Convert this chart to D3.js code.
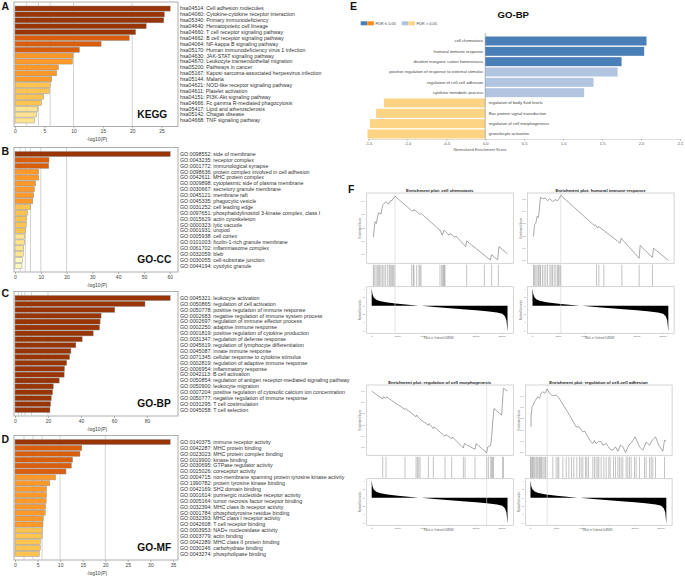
<!DOCTYPE html>
<html><head><meta charset="utf-8">
<script src="https://cdn.jsdelivr.net/npm/d3@7"></script>
<style>body{margin:0;background:#fff}svg{display:block}text{font-family:"Liberation Sans",Arial,sans-serif}</style>
</head><body><svg id="c" width="685" height="576"></svg>
<script>
// ---------- Metascape bar panels (-log10 P) ----------
const keggTerms = ["hsa04514: Cell adhesion molecules","hsa04060: Cytokine-cytokine receptor interaction","hsa05340: Primary immunodeficiency","hsa04640: Hematopoietic cell lineage","hsa04660: T cell receptor signaling pathway","hsa04662: B cell receptor signaling pathway","hsa04064: NF-kappa B signaling pathway","hsa05170: Human immunodeficiency virus 1 infection","hsa04630: JAK-STAT signaling pathway","hsa04670: Leukocyte transendothelial migration","hsa05200: Pathways in cancer","hsa05167: Kaposi sarcoma-associated herpesvirus infection","hsa05144: Malaria","hsa04621: NOD-like receptor signaling pathway","hsa04611: Platelet activation","hsa04151: PI3K-Akt signaling pathway","hsa04666: Fc gamma R-mediated phagocytosis","hsa05417: Lipid and atherosclerosis","hsa05142: Chagas disease","hsa04668: TNF signaling pathway"];
const keggValues = [26.5,25.5,25.4,22.4,20.6,19.5,14.7,11.0,9.9,9.8,7.4,7.1,6.25,6.0,5.85,4.9,4.5,3.9,3.7,3.35];
const keggTicks = [0,5,10,15,20,25];

const ccTerms = ["GO:0098552: side of membrane","GO:0043235: receptor complex","GO:0001772: immunological synapse","GO:0098636: protein complex involved in cell adhesion","GO:0042611: MHC protein complex","GO:0009898: cytoplasmic side of plasma membrane","GO:0030667: secretory granule membrane","GO:0045121: membrane raft","GO:0045335: phagocytic vesicle","GO:0031252: cell leading edge","GO:0097651: phosphatidylinositol 3-kinase complex, class I","GO:0015629: actin cytoskeleton","GO:0000323: lytic vacuole","GO:0001931: uropod","GO:0005938: cell cortex","GO:0101003: ficolin-1-rich granule membrane","GO:0061702: inflammasome complex","GO:0032059: bleb","GO:0030055: cell-substrate junction","GO:0044194: cytolytic granule"];
const ccValues = [60.2,13.2,13.1,9.2,9.2,8.0,7.5,7.25,6.9,6.0,4.9,4.5,4.4,4.1,3.75,3.75,3.4,3.2,2.85,2.7];
const ccTicks = [0,10,20,30,40,50,60];

const bpTerms = ["GO:0045321: leukocyte activation","GO:0050865: regulation of cell activation","GO:0050778: positive regulation of immune response","GO:0002683: negative regulation of immune system process","GO:0002697: regulation of immune effector process","GO:0002250: adaptive immune response","GO:0001819: positive regulation of cytokine production","GO:0031347: regulation of defense response","GO:0045619: regulation of lymphocyte differentiation","GO:0045087: innate immune response","GO:0071345: cellular response to cytokine stimulus","GO:0002819: regulation of adaptive immune response","GO:0006954: inflammatory response","GO:0042113: B cell activation","GO:0050854: regulation of antigen receptor-mediated signaling pathway","GO:0050900: leukocyte migration","GO:0007204: positive regulation of cytosolic calcium ion concentration","GO:0050777: negative regulation of immune response","GO:0031295: T cell costimulation","GO:0045058: T cell selection"];
const bpValues = [94.1,78.8,60.5,52.2,51.6,51.2,47.4,40.7,36.9,33.9,33.1,31.3,30.0,29.8,26.8,23.2,22.8,22.0,21.6,21.2];
const bpTicks = [0,20,40,60,80];

const mfTerms = ["GO:0140375: immune receptor activity","GO:0042287: MHC protein binding","GO:0023023: MHC protein complex binding","GO:0019900: kinase binding","GO:0030695: GTPase regulator activity","GO:0015026: coreceptor activity","GO:0004715: non-membrane spanning protein tyrosine kinase activity","GO:1990782: protein tyrosine kinase binding","GO:0042169: SH2 domain binding","GO:0001614: purinergic nucleotide receptor activity","GO:0005164: tumor necrosis factor receptor binding","GO:0032394: MHC class Ib receptor activity","GO:0001784: phosphotyrosine residue binding","GO:0032393: MHC class I receptor activity","GO:0042608: T cell receptor binding","GO:0003953: NAD+ nucleosidase activity","GO:0003779: actin binding","GO:0042289: MHC class II protein binding","GO:0030246: carbohydrate binding","GO:0043274: phospholipase binding"];
const mfValues = [34.4,14.8,14.4,12.75,12.5,11.3,9.0,7.7,7.0,7.0,6.9,6.8,6.7,6.3,6.2,6.05,6.0,5.6,5.6,5.4];
const mfTicks = [0,5,10,15,20,25,30,35];

const metaGridValues = [2,4,6,10,20];

// ---------- Panel E: GSEA GO-BP NES ----------
const nesTerms = ["cell chemotaxis","humoral immune response","divalent inorganic cation homeostasis","positive regulation of response to external stimulus","regulation of cell-cell adhesion","cytokine metabolic process","regulation of body fluid levels","Ras protein signal transduction","regulation of cell morphogenesis","granulocyte activation"];
const nesValues = [2.07,2.04,1.75,1.70,1.39,1.27,-1.30,-1.40,-1.48,-1.51];
const nesFdrSignificant = [true,true,true,false,false,false,false,false,false,false];
const nesTicks = [-1.5,-1.0,-0.5,0.0,0.5,1.0,1.5,2.0,2.5];

// ---------- Panel F: enrichment plots (rank in thousands) ----------
const rankTicks = [0,5,10,15,20,25];
const rankedMetric = [[0,4.2],[0.15,2.8],[0.4,2.0],[0.8,1.5],[1.5,1.15],[3,0.8],[5,0.5],[7,0.28],[9,0.05],[9.5,0],[12,-0.3],[15,-0.6],[18,-0.85],[20,-1.05],[22,-1.3],[24,-1.6],[25,-1.9],[25.5,-2.5],[25.8,-3.5],[26,-6.2]];
const metricTicks = [-6,-4,-2,0,2,4];

const chemotaxisCurve = [[0.31,0.127],[0.63,0.246],[0.89,0.233],[1.27,0.314],[1.78,0.304],[2.10,0.372],[2.67,0.397],[3.18,0.380],[3.57,0.405],[3.95,0.410],[4.21,0.430],[4.46,0.440],[7.65,0.33],[7.97,0.329],[8.10,0.339],[9.25,0.301],[9.44,0.309],[13.07,0.182],[13.52,0.144],[13.84,0.182],[14.80,0.144],[14.99,0.157],[15.95,0.127],[16.14,0.137],[17.99,0.056],[18.18,0.099],[22.71,-0.046],[22.96,-0.005],[24.11,-0.045],[24.37,0.057],[26.0,0.0]];
const chemotaxisHits = [0.31,0.50,0.82,1.08,1.33,1.53,1.78,2.10,2.36,2.67,3.06,3.38,3.57,3.82,4.01,4.21,4.46,7.65,7.97,8.10,8.61,9.05,9.25,9.44,13.07,13.39,13.59,13.78,13.90,14.03,18.18,21.56,22.96,24.24];
const chemotaxisPeak = 4.46;
const chemotaxisTicks = [0,0.1,0.2,0.3,0.4];

const humoralCurve = [[0.19,0.195],[0.38,0.29],[0.64,0.304],[0.89,0.359],[1.15,0.351],[1.53,0.515],[2.04,0.504],[2.43,0.510],[2.87,0.488],[3.32,0.504],[3.83,0.482],[4.34,0.496],[4.79,0.488],[5.11,0.504],[5.42,0.532],[11.81,0.285],[12.0,0.290],[12.44,0.263],[12.63,0.277],[16.78,0.140],[16.97,0.181],[20.42,0.016],[20.61,0.121],[22.97,0.022],[23.16,0.099],[26.0,0.0]];
const humoralHits = [0.19,0.38,0.64,0.89,1.15,1.40,1.53,1.91,2.23,2.55,2.87,3.32,3.57,3.83,4.15,4.47,4.79,4.98,5.23,5.42,12.25,12.70,13.66,17.11,20.42,22.97];
const humoralPeak = 5.42;
const humoralTicks = [0,0.1,0.2,0.3,0.4,0.5];

const morphoCurve = [[0,0],[2.11,-0.071],[2.23,-0.051],[2.68,-0.065],[2.81,-0.051],[6.38,-0.164],[6.51,-0.155],[8.49,-0.229],[8.61,-0.214],[9.25,-0.25],[10.85,-0.304],[10.98,-0.289],[11.80,-0.333],[11.93,-0.318],[14.04,-0.402],[14.23,-0.387],[15.31,-0.423],[15.44,-0.408],[17.55,-0.506],[17.74,-0.467],[19.78,-0.518],[19.97,-0.467],[22.01,-0.548],[22.21,-0.497],[22.78,-0.482],[22.91,-0.423],[23.04,-0.363],[23.16,-0.274],[23.42,-0.155],[24.89,-0.214],[25.20,0.024],[26.0,0.0]];
const morphoHits = [2.11,2.74,6.38,8.49,8.74,9.00,9.25,10.85,11.80,14.04,15.31,17.55,17.87,19.78,22.01,22.33,22.78,22.97,23.16,23.29,25.08,25.20];
const morphoPeak = 22.01;
const morphoTicks = [-0.5,-0.4,-0.3,-0.2,-0.1,0];

const adhesionCurve = [[0.1,0.126],[0.13,0.229],[0.32,0.303],[0.57,0.324],[0.83,0.353],[1.09,0.371],[1.40,0.391],[1.72,0.376],[2.04,0.421],[2.36,0.435],[2.74,0.421],[3.19,0.459],[3.64,0.421],[4.02,0.406],[4.40,0.40],[4.91,0.406],[5.30,0.391],[7.47,0.229],[8.74,0.126],[9.25,0.126],[10.02,0.082],[10.40,0.088],[11.10,0.029],[11.61,-0.006],[11.93,-0.021],[12.25,0.006],[12.57,-0.021],[13.08,0.0],[13.53,-0.006],[13.85,-0.035],[14.49,-0.021],[15.25,-0.071],[15.76,-0.079],[16.27,-0.05],[16.72,-0.088],[17.23,-0.035],[17.68,-0.05],[18.19,-0.1],[18.82,-0.035],[19.46,-0.006],[20.04,0.038],[20.87,-0.05],[21.50,-0.079],[22.14,-0.006],[22.78,-0.035],[23.29,0.009],[23.93,0.038],[24.57,-0.035],[25.33,-0.088],[25.65,0.009],[26.0,0.0]];
const adhesionHits = [0.0,0.13,0.32,0.45,0.64,0.83,1.08,1.28,1.47,1.72,1.91,2.11,2.36,2.62,2.87,3.19,4.27,4.91,5.23,5.42,6.19,6.83,7.34,7.85,8.29,8.87,9.38,9.70,10.02,10.53,10.78,11.10,11.93,12.25,12.57,12.89,13.08,13.53,14.04,14.48,14.99,15.25,15.89,16.27,16.72,17.03,17.35,17.67,18.31,18.63,18.95,19.27,19.91,20.22,20.86,21.82,22.14,22.78,23.10,23.41,23.93,25.65];
const adhesionPeak = 3.19;
const adhesionTicks = [-0.1,0,0.1,0.2,0.3,0.4];

// =====================================================
const svg = d3.select("#c");
svg.append("rect").attr("width",685).attr("height",576).attr("fill","#fff");

function barColor(v){
  if (v >= 20) return "#993404";
  if (v >= 10) return "#d95f0e";
  if (v >= 6.1) return "#fe9929";
  if (v >= 4) return "#fec44f";
  if (v >= 3) return "#fee391";
  return "#fff7bc";
}

function metaPanel(letter, name, terms, values, ticks, top, letterY){
  const H = 124.5, L = 14, R = 178;
  const g = svg.append("g").attr("transform", `translate(0,${top})`);
  const x = d3.scaleLinear().domain([0, d3.max(values)*1.05]).range([L+1, R]);
  const y = d3.scaleBand().domain(terms).range([4, H-3.5]).paddingInner(0.14);
  g.append("rect").attr("x",L).attr("y",0).attr("width",R-L).attr("height",H)
    .attr("fill","#fff").attr("stroke","#9a9a9a").attr("stroke-width",0.8);
  g.selectAll(".grid").data(metaGridValues).join("line")
    .attr("x1",d=>x(d)).attr("x2",d=>x(d)).attr("y1",0.4).attr("y2",H)
    .attr("stroke","#c6c6c6").attr("stroke-width",0.8);
  g.selectAll(".bar").data(values).join("rect")
    .attr("x",x(0)).attr("y",(d,i)=>y(terms[i]))
    .attr("width",d=>x(d)-x(0)).attr("height",y.bandwidth())
    .attr("fill",d=>barColor(d)).attr("stroke","#8e8e8e").attr("stroke-width",0.45);
  g.selectAll(".lab").data(terms).join("text")
    .attr("x",180).attr("y",d=>y(d)+y.bandwidth()/2).attr("dy","0.35em")
    .attr("font-size",5.3).attr("fill","#333").text(d=>d);
  const ax = g.append("g").attr("transform",`translate(0,${H})`)
    .call(d3.axisBottom(x).tickValues(ticks).tickSize(2).tickPadding(1.2));
  ax.attr("font-size",5).attr("font-family",null);
  ax.select(".domain").remove();
  ax.selectAll("line").attr("stroke","#777").attr("stroke-width",0.5);
  ax.selectAll("text").attr("fill","#444");
  g.append("text").attr("x",97).attr("y",H+14.5).attr("text-anchor","middle")
    .attr("font-size",5).attr("fill","#444").text("-log10(P)");
  g.append("text").attr("x",137.3).attr("y",H-9).attr("font-size",10.2)
    .attr("font-weight","bold").attr("fill","#111").text(name);
  svg.append("text").attr("x",1.5).attr("y",letterY).attr("font-size",10.5)
    .attr("font-weight","bold").attr("fill","#111").text(letter);
}

metaPanel("A","KEGG",keggTerms,keggValues,keggTicks,2,9.5);
metaPanel("B","GO-CC",ccTerms,ccValues,ccTicks,147.5,154.7);
metaPanel("C","GO-BP",bpTerms,bpValues,bpTicks,291.5,297.3);
metaPanel("D","GO-MF",mfTerms,mfValues,mfTicks,435.5,442.7);

// ---------- Panel E ----------
(function(){
  const g = svg.append("g");
  const x = d3.scaleLinear().domain([-1.5,2.5]).range([368.3,680]);
  const y = d3.scaleBand().domain(nesTerms).range([36.5,138.5]).paddingInner(0.13);
  const col = (v,s) => v>0 ? (s ? "#4a7eb7" : "#b2c5e0") : (s ? "#ff8c1a" : "#fdd384");
  svg.append("text").attr("x",350).attr("y",10).attr("font-size",10.5)
    .attr("font-weight","bold").attr("fill","#111").text("E");
  g.append("text").attr("x",513.3).attr("y",18.3).attr("text-anchor","middle")
    .attr("font-size",9.6).attr("font-weight","bold").attr("fill","#111").text("GO-BP");
  const lg = g.append("g");
  lg.append("rect").attr("x",360.7).attr("y",21.3).attr("width",6.6).attr("height",4).attr("fill",col(1,true));
  lg.append("rect").attr("x",367.3).attr("y",21.3).attr("width",6.6).attr("height",4).attr("fill",col(-1,true));
  lg.append("text").attr("x",375.5).attr("y",24.9).attr("font-size",4).attr("fill","#444").text("FDR \u2264 0.05");
  lg.append("rect").attr("x",401.7).attr("y",21.3).attr("width",6.6).attr("height",4).attr("fill",col(1,false));
  lg.append("rect").attr("x",408.3).attr("y",21.3).attr("width",6.6).attr("height",4).attr("fill",col(-1,false));
  lg.append("text").attr("x",416.5).attr("y",24.9).attr("font-size",4).attr("fill","#444").text("FDR > 0.05");
  g.selectAll(".nb").data(nesValues).join("rect")
    .attr("x",d=>x(Math.min(0,d))).attr("y",(d,i)=>y(nesTerms[i]))
    .attr("width",d=>Math.abs(x(d)-x(0))).attr("height",y.bandwidth())
    .attr("fill",(d,i)=>col(d,nesFdrSignificant[i]));
  g.selectAll(".nl").data(nesValues).join("text")
    .attr("x",d=> d>0 ? x(0)-2 : x(0)+3.5)
    .attr("y",(d,i)=>y(nesTerms[i])+y.bandwidth()/2).attr("dy","0.35em")
    .attr("text-anchor",d=> d>0 ? "end" : "start")
    .attr("font-size",4.2).attr("fill","#444").text((d,i)=>nesTerms[i]);
  g.append("line").attr("x1",x(0)).attr("x2",x(0)).attr("y1",33).attr("y2",139)
    .attr("stroke","#8a8a8a").attr("stroke-width",0.6);
  const ax = g.append("g").attr("transform","translate(0,139)")
    .call(d3.axisBottom(x).tickValues(nesTicks).tickSize(1.8).tickPadding(1).tickFormat(d=>d.toFixed(1)));
  ax.attr("font-size",4).attr("font-family",null);
  ax.select(".domain").attr("stroke","#bbb").attr("stroke-width",0.5);
  ax.selectAll("line").attr("stroke","#999").attr("stroke-width",0.5);
  ax.selectAll("text").attr("fill","#555");
  g.append("text").attr("x",480).attr("y",150.5).attr("text-anchor","middle")
    .attr("font-size",4).attr("fill","#555").text("Normalized Enrichment Score");
})();

// ---------- Panel F ----------
svg.append("text").attr("x",348).attr("y",192.7).attr("font-size",10.5)
  .attr("font-weight","bold").attr("fill","#111").text("F");

function gseaPlot(title, boxX, top, curve, hits, peak, esDomain, esTicks){
  const W = 146.6, h1 = 70.3, bcTop = top + h1, mTop = top + 93.7, mBot = top + 140.3;
  const g = svg.append("g");
  const x = d3.scaleLinear().domain([0,25]).range([boxX+5, boxX+5+130.6]);
  const yEs = d3.scaleLinear().domain(esDomain).range([top+h1, top]);
  const yM = d3.scaleLinear().domain([-6.6,4.6]).range([mBot, mTop]);
  g.append("text").attr("x",boxX+73).attr("y",top-1.3).attr("text-anchor","middle")
    .attr("font-size",4.3).attr("font-weight","bold").attr("fill","#222").text(title);
  g.append("rect").attr("x",boxX).attr("y",top).attr("width",W).attr("height",h1)
    .attr("fill","#fff").attr("stroke","#c4c4c4").attr("stroke-width",0.7);
  g.append("line").attr("x1",x(peak)).attr("x2",x(peak)).attr("y1",top).attr("y2",top+h1)
    .attr("stroke","#d4d4d4").attr("stroke-width",0.6);
  g.append("path").datum(curve)
    .attr("d",d3.line().x(d=>x(d[0])).y(d=>yEs(d[1])))
    .attr("fill","none").attr("stroke","#6e6e6e").attr("stroke-width",0.6);
  g.selectAll(".est").data(esTicks).join("text")
    .attr("x",boxX-2).attr("y",d=>yEs(d)).attr("dy","0.35em").attr("text-anchor","end")
    .attr("font-size",2.4).attr("fill","#666").text(d=>d.toFixed(1));
  g.append("text").attr("transform",`translate(${boxX-5.5},${top+h1/2}) rotate(-90)`)
    .attr("text-anchor","middle").attr("font-size",2.6).attr("fill","#666").text("Enrichment Score");
  g.selectAll(".hit").data(hits).join("line")
    .attr("x1",d=>x(d)).attr("x2",d=>x(d)).attr("y1",bcTop+1.5).attr("y2",mTop-0.5)
    .attr("stroke","#6a6a6a").attr("stroke-width",0.4);
  g.append("rect").attr("x",boxX).attr("y",mTop).attr("width",W).attr("height",mBot-mTop)
    .attr("fill","#fff").attr("stroke","#c4c4c4").attr("stroke-width",0.7);
  g.append("path").datum(rankedMetric)
    .attr("d",d3.area().x(d=>x(d[0])).y0(yM(0)).y1(d=>yM(d[1])))
    .attr("fill","#000");
  g.append("line").attr("x1",x(peak)).attr("x2",x(peak)).attr("y1",mTop).attr("y2",mBot)
    .attr("stroke","#d4d4d4").attr("stroke-width",0.6);
  g.selectAll(".mt").data(metricTicks).join("text")
    .attr("x",boxX-2).attr("y",d=>yM(d)).attr("dy","0.35em").attr("text-anchor","end")
    .attr("font-size",2.4).attr("fill","#666").text(d=>d);
  g.append("text").attr("transform",`translate(${boxX-5.5},${(mTop+mBot)/2}) rotate(-90)`)
    .attr("text-anchor","middle").attr("font-size",2.6).attr("fill","#666").text("Ranked list metric");
  g.selectAll(".rt").data(rankTicks).join("text")
    .attr("x",d=>x(d)).attr("y",mBot+3.3).attr("text-anchor","middle")
    .attr("font-size",2.5).attr("fill","#666").text(d=>d*1000);
  g.selectAll(".rtl").data(rankTicks).join("line")
    .attr("x1",d=>x(d)).attr("x2",d=>x(d)).attr("y1",mBot).attr("y2",mBot+0.9)
    .attr("stroke","#888").attr("stroke-width",0.4);
  g.append("text").attr("x",boxX+72).attr("y",mBot+5.6).attr("text-anchor","middle")
    .attr("font-size",2.7).attr("fill","#666").text("Rank in Ordered Dataset");
}

gseaPlot("Enrichment plot: cell chemotaxis",366.7,193,chemotaxisCurve,chemotaxisHits,chemotaxisPeak,[-0.071,0.465],chemotaxisTicks);
gseaPlot("Enrichment plot: humoral immune response",527.5,193,humoralCurve,humoralHits,humoralPeak,[-0.025,0.551],humoralTicks);
gseaPlot("Enrichment plot: regulation of cell morphogenesis",366.7,385,morphoCurve,morphoHits,morphoPeak,[-0.571,0.054],morphoTicks);
gseaPlot("Enrichment plot: regulation of cell-cell adhesion",525.5,385,adhesionCurve,adhesionHits,adhesionPeak,[-0.124,0.494],adhesionTicks);
</script></body></html>
